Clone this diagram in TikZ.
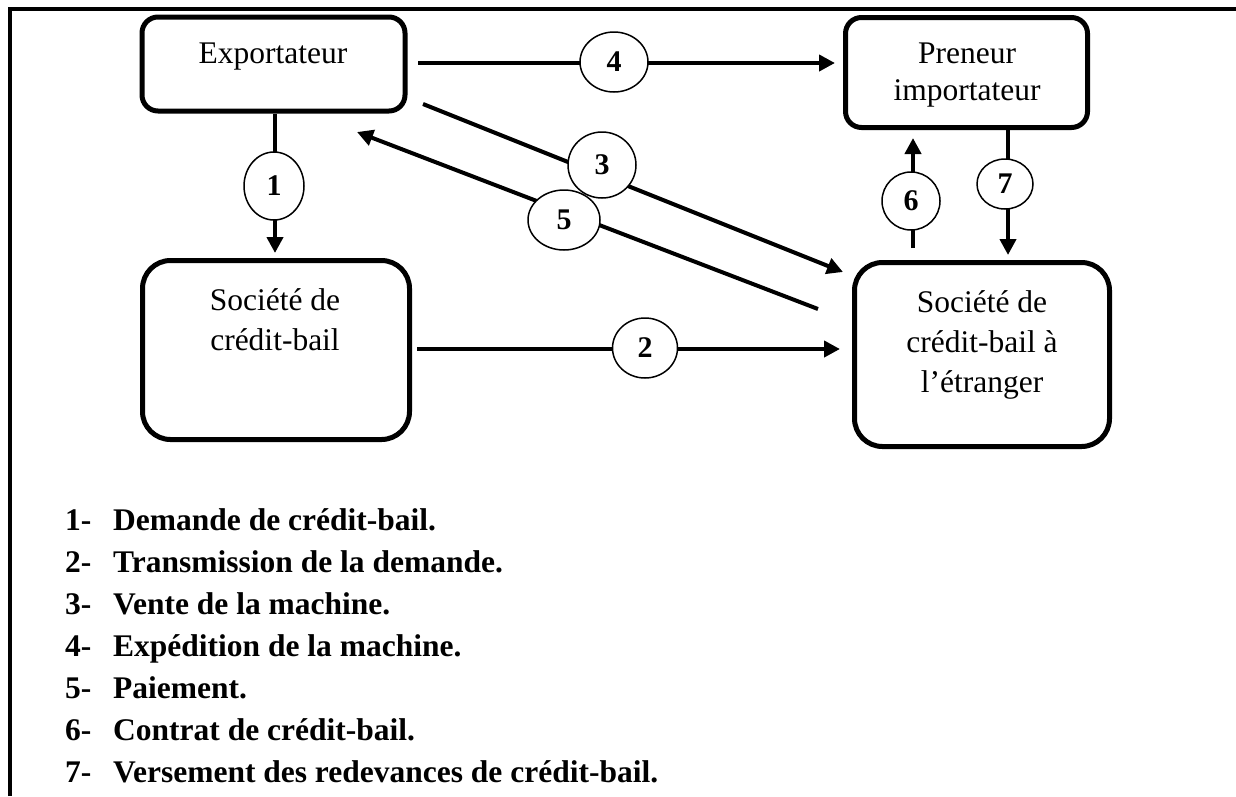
\documentclass[tikz,border=0pt]{standalone}
\usepackage{fontspec}
\setmainfont{Liberation Serif}
\usetikzlibrary{arrows.meta,shapes.geometric}

\begin{document}
\begin{tikzpicture}[x=1pt,y=-1pt,
  box/.style={draw, line width=5pt, rounded corners=#1, inner sep=0pt},
  boxtext/.style={anchor=base, inner sep=0pt, font=\fontsize{31.5}{40}\selectfont},
  num/.style={draw, ellipse, fill=white, line width=1.5pt, inner sep=0pt,
              font=\bfseries\fontsize{30}{30}\selectfont},
  flow/.style={line width=4pt, -{Triangle[length=16pt,width=16pt]}},
  legend/.style={anchor=base west, inner sep=0pt, font=\bfseries\fontsize{31.5}{42}\selectfont}]

\useasboundingbox (0,0) rectangle (1236,796);

% page frame (top and left rules)
\draw[line width=4pt] (10,796) -- (10,8.5) -- (1236,8.5);

% actors
\node[box=16, minimum width=263pt, minimum height=94pt]  (exp) at (273.5,64) {};
\node[box=16, minimum width=242pt, minimum height=110pt] (pre) at (966.5,72.5) {};
\node[box=28, minimum width=267pt, minimum height=179pt] (scb) at (276,350) {};
\node[box=28, minimum width=255pt, minimum height=184pt] (sce) at (982,354.5) {};

\node[boxtext] (expT)  at (273,63)  {Exportateur};
\node[boxtext] (preT1) at (967,63)  {Preneur};
\node[boxtext] (preT2) at (967,100) {importateur};
\node[boxtext] (scbT1) at (275,310) {Société de};
\node[boxtext] (scbT2) at (275,350) {crédit-bail};
\node[boxtext] (sceT1) at (982,312) {Société de};
\node[boxtext] (sceT2) at (982,352) {crédit-bail à};
\node[boxtext] (sceT3) at (982,392) {l’étranger};

% connector end points
\coordinate (t1) at (275,253);
\coordinate (s2) at (417,349);  \coordinate (t2) at (840,349);
\coordinate (s3) at (423,104);  \coordinate (t3) at (843,272);
\coordinate (s4) at (418,63);   \coordinate (t4) at (835,63);
\coordinate (s5) at (818,309);  \coordinate (t5) at (357,132);
\coordinate (s6) at (913,248);  \coordinate (t6) at (913,138);
\coordinate (t7) at (1008,255);

% flows
\draw[flow] (exp.south -| t1) -- (t1);
\draw[flow] (s2) -- (t2);
\draw[flow] (s3) -- (t3);
\draw[flow] (s4) -- (t4);
\draw[flow] (s5) -- (t5);
\draw[flow] (s6) -- (t6);
\draw[flow] (pre.south -| t7) -- (t7);

% step numbers
\node[num, minimum width=60pt, minimum height=68pt] (n1) at (274,186)  {1};
\node[num, minimum width=65pt, minimum height=60pt] (n2) at (645,348)  {2};
\node[num, minimum width=68pt, minimum height=66pt] (n3) at (602,165)  {3};
\node[num, minimum width=68pt, minimum height=60pt] (n4) at (614,62)   {4};
\node[num, minimum width=72pt, minimum height=60pt] (n5) at (564,220)  {5};
\node[num, minimum width=58pt, minimum height=58pt] (n6) at (911,201)  {6};
\node[num, minimum width=56pt, minimum height=50pt] (n7) at (1005,184) {7};

% legend
\foreach \t [count=\k] in {Demande de crédit-bail.,
    Transmission de la demande.,
    Vente de la machine.,
    Expédition de la machine.,
    Paiement.,
    Contrat de crédit-bail.,
    Versement des redevances de crédit-bail.}
  \node[legend] (leg\k) at (65,{530+42*(\k-1)}) {\makebox[48pt][l]{\k-}\t};

\end{tikzpicture}
\end{document}
